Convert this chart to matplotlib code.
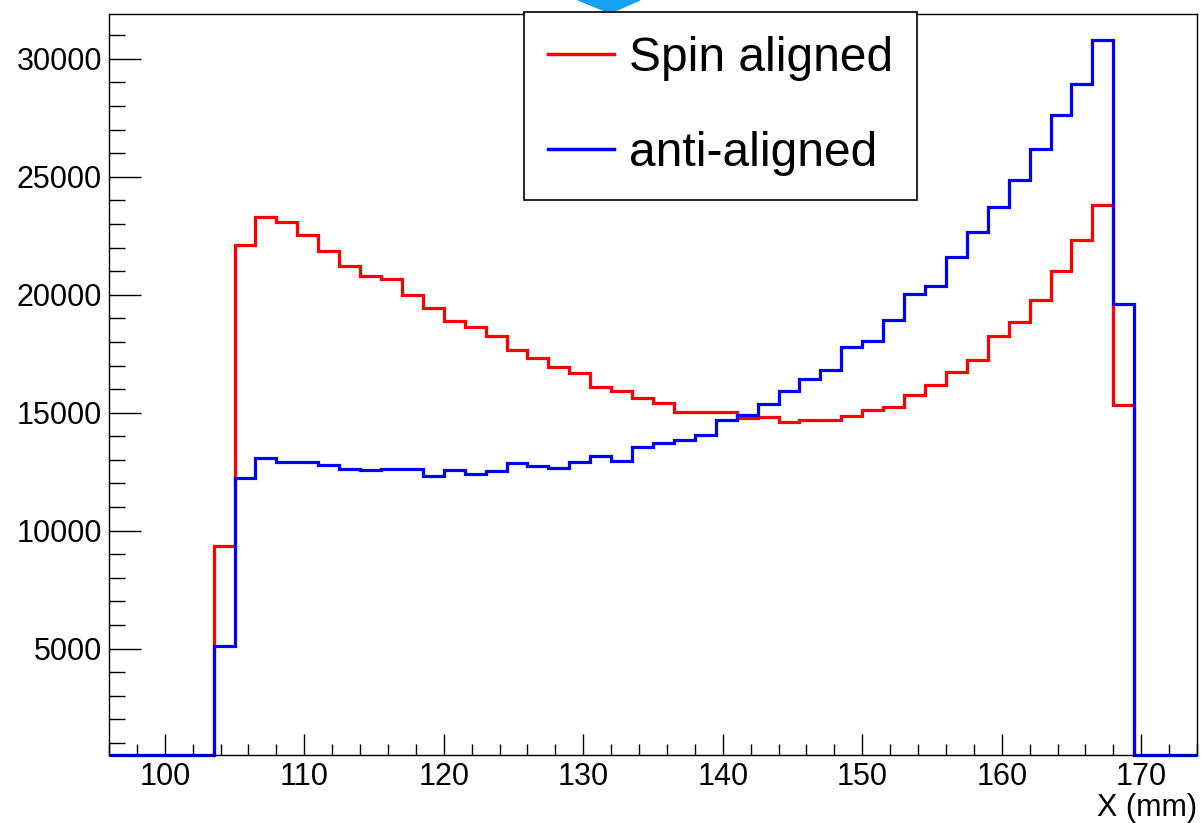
import numpy as np
import matplotlib.pyplot as plt
from matplotlib.lines import Line2D
from matplotlib.patches import Polygon
from matplotlib.ticker import MultipleLocator

plt.rcParams['font.family'] = ['Liberation Sans', 'DejaVu Sans']

# binning: 52 bins of 1.5 mm from 96 to 174 mm
x_lo = 96.0
bin_width = 1.5
n_bins = 52

spin_aligned = [0, 0, 0, 0, 0,
                9330, 22090, 23300, 23100, 22530, 21850, 21240, 20790, 20650, 19970,
                19420, 18900, 18640, 18260, 17640, 17310, 16930, 16670, 16110, 15940,
                15610, 15400, 15020, 15050, 15050, 14760, 14810, 14590, 14710, 14710,
                14880, 15130, 15230, 15770, 16190, 16720, 17240, 18240, 18850, 19790,
                21010, 22310, 23820, 15330,
                0, 0, 0]
anti_aligned = [0, 0, 0, 0, 0,
                5100, 12250, 13070, 12920, 12920, 12770, 12630, 12560, 12630, 12620,
                12310, 12590, 12400, 12540, 12870, 12720, 12640, 12890, 13150, 12970,
                13530, 13700, 13840, 14040, 14690, 14920, 15370, 15940, 16440, 16790,
                17780, 18060, 18910, 20020, 20370, 21580, 22680, 23740, 24860, 26180,
                27610, 28950, 30790, 19590,
                0, 0, 0]
labels = ["Spin aligned", "anti-aligned"]
colors = ["#ff0000", "#0000ff"]

y_min, y_max = 500, 31890
edges = x_lo + bin_width * np.arange(n_bins + 1)

fig = plt.figure(figsize=(12.03, 8.23), dpi=100)
ax = fig.add_axes([109 / 1203, 1 - 754.7 / 823, 1088 / 1203, (754.7 - 14.3) / 823])

for vals, c in zip([spin_aligned, anti_aligned], colors):
    # empty bins are drawn along the bottom of the frame, like ROOT does
    v = np.clip(np.array(vals, dtype=float), y_min, None)
    ax.stairs(v, edges, baseline=None, color=c, lw=2.3, clip_on=False)

ax.set_xlim(edges[0], edges[-1])
ax.set_ylim(y_min, y_max)

ax.set_xticks(np.arange(100, 171, 10))
ax.xaxis.set_minor_locator(MultipleLocator(2))
ax.set_yticks(np.arange(5000, 30001, 5000))
ax.yaxis.set_minor_locator(MultipleLocator(1000))

ax.tick_params(axis='both', which='both', direction='in', top=False, right=False,
               width=1.0, labelsize=22, colors='black')
ax.tick_params(axis='x', which='major', length=15, pad=5)
ax.tick_params(axis='x', which='minor', length=8)
ax.tick_params(axis='y', which='major', length=23, pad=5)
ax.tick_params(axis='y', which='minor', length=11.5)
for s in ax.spines.values():
    s.set_linewidth(1.0)

ax.set_xlabel("X (mm)", loc='right', fontsize=22, labelpad=1)

# small marker above the frame
tri = Polygon([(578 / 1203, 1.0), (640 / 1203, 1.0), (610 / 1203, 1 - 13 / 823)],
              closed=True, transform=fig.transFigure, color='#16a2f0', zorder=1)
fig.patches.append(tri)

handles = [Line2D([], [], color=c, lw=2.5) for c in colors]
leg = fig.legend(handles, labels, loc='upper left',
                 bbox_to_anchor=(524 / 1203, 1 - 12 / 823),
                 bbox_transform=fig.transFigure, fontsize=34.5,
                 frameon=True, fancybox=False, edgecolor='black', framealpha=1,
                 borderpad=0.5, labelspacing=1.04, handlelength=1.375,
                 handletextpad=0.31, borderaxespad=0)
leg.get_frame().set_linewidth(1.2)
leg.set_zorder(10)

fig.savefig("out.png", dpi=100)
